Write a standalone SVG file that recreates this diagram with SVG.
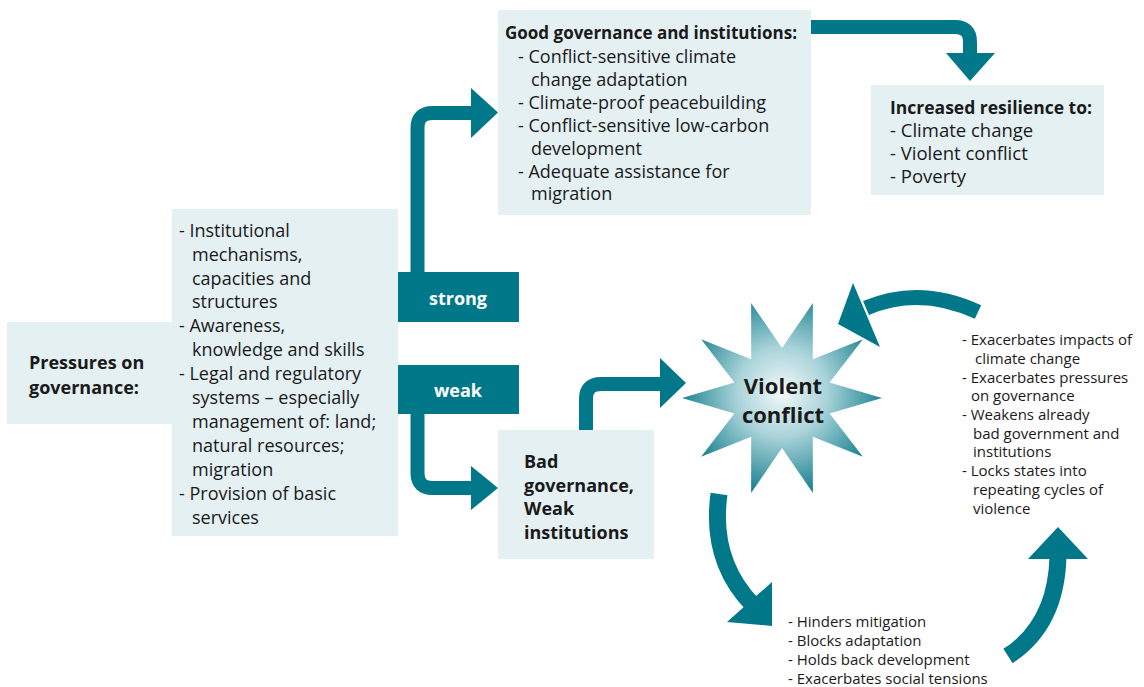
<svg xmlns="http://www.w3.org/2000/svg" width="1144" height="687" viewBox="0 0 1144 687">
<style>
.box{fill:#e4f0f2}
.dark{fill:#007889}
.t{font-family:"Open Sans","Liberation Sans",sans-serif;font-size:18px;fill:#1a1a1a}
.b{font-weight:bold}
.s{font-family:"Open Sans","Liberation Sans",sans-serif;font-size:15px;fill:#1a1a1a}
.w{font-family:"Open Sans","Liberation Sans",sans-serif;font-size:18px;font-weight:bold;fill:#ffffff;text-anchor:middle}
.sh{fill:none;stroke:#007889;stroke-width:14}
.ah{fill:#007889}
</style>
<defs>
<radialGradient id="sg" cx="782" cy="392" r="100" gradientUnits="userSpaceOnUse">
<stop offset="0" stop-color="#f2f9fa"/>
<stop offset="0.45" stop-color="#a9d3d9"/>
<stop offset="1" stop-color="#1f8593"/>
</radialGradient>
</defs>
<rect width="1144" height="687" fill="#ffffff"/>

<g id="connectors">
<path class="sh" d="M417.5,272 V128 Q417.5,113 432.5,113 H473"/>
<polygon class="ah" points="471,88 498,112.5 471,138"/>
<path class="sh" d="M417.5,414 V473 Q417.5,488 432.5,488 H473"/>
<polygon class="ah" points="471,466 498,488 471,510"/>
<path class="sh" d="M586,430 V399 Q586,384 601,384 H662"/>
<polygon class="ah" points="660,358 686,383 660,408"/>
<path class="sh" d="M811,27 H955 Q970,27 970,42 V55"/>
<polygon class="ah" points="946,53 995,53 970,81"/>
<path class="sh" style="stroke-width:15" d="M978,312 Q920,285 866,308"/>
<polygon class="ah" points="838,324 853,283 880,347"/>
<path class="sh" style="stroke-width:17" d="M719,494 Q710,560 752,604"/>
<polygon class="ah" points="772,582 772,626 727,622"/>
<path class="sh" style="stroke-width:17" d="M1008,656 Q1056,625 1058,557"/>
<polygon class="ah" points="1058,527 1088,559 1028,559"/>
</g>

<g id="pressures">
<rect class="box" x="7" y="322" width="170" height="102"/>
<text class="t b" x="29" y="369">Pressures on</text>
<text class="t b" x="29" y="394">governance:</text>
</g>

<g id="pressure-list">
<rect class="box" x="172" y="209" width="226" height="327"/>
<text class="t">
<tspan x="179" y="237">- Institutional</tspan>
<tspan x="192" y="261">mechanisms,</tspan>
<tspan x="192" y="285">capacities and</tspan>
<tspan x="192" y="308">structures</tspan>
<tspan x="179" y="332">- Awareness,</tspan>
<tspan x="192" y="356">knowledge and skills</tspan>
<tspan x="179" y="380">- Legal and regulatory</tspan>
<tspan x="192" y="404">systems – especially</tspan>
<tspan x="192" y="428">management of: land;</tspan>
<tspan x="192" y="452">natural resources;</tspan>
<tspan x="192" y="476">migration</tspan>
<tspan x="179" y="500">- Provision of basic</tspan>
<tspan x="192" y="524">services</tspan>
</text>
</g>

<g id="strong">
<rect class="dark" x="398" y="272" width="121" height="50"/>
<text class="w" x="458" y="305">strong</text>
</g>

<g id="weak">
<rect class="dark" x="398" y="365" width="121" height="49"/>
<text class="w" x="458" y="397">weak</text>
</g>

<g id="good-governance">
<rect class="box" x="498" y="10" width="313" height="205"/>
<text class="t b" x="505" y="39" style="font-size:17px">Good governance and institutions:</text>
<text class="t">
<tspan x="518" y="63">- Conflict-sensitive climate</tspan>
<tspan x="531" y="86">change adaptation</tspan>
<tspan x="518" y="109">- Climate-proof peacebuilding</tspan>
<tspan x="518" y="132">- Conflict-sensitive low-carbon</tspan>
<tspan x="531" y="155">development</tspan>
<tspan x="518" y="178">- Adequate assistance for</tspan>
<tspan x="531" y="200">migration</tspan>
</text>
</g>

<g id="resilience">
<rect class="box" x="871" y="85" width="233" height="110"/>
<text class="t b" x="890" y="114" style="font-size:17.5px">Increased resilience to:</text>
<text class="t" style="font-size:18.5px">
<tspan x="890" y="137">- Climate change</tspan>
<tspan x="890" y="160">- Violent conflict</tspan>
<tspan x="890" y="183">- Poverty</tspan>
</text>
</g>

<g id="bad-governance">
<rect class="box" x="498" y="430" width="156" height="129"/>
<text class="t b">
<tspan x="524" y="468">Bad</tspan>
<tspan x="524" y="492">governance,</tspan>
<tspan x="524" y="515">Weak</tspan>
<tspan x="524" y="539">institutions</tspan>
</text>
</g>

<g id="violent-conflict">
<polygon fill="url(#sg)" points="882,398 829.6,413.5 862.9,456.8 812.8,436.8 812.9,493.1 782,448 751.1,493.1 751.2,436.8 701.1,456.8 734.4,413.5 682,398 734.4,382.5 701.1,339.2 751.2,359.2 751.1,302.9 782,348 812.9,302.9 812.8,359.2 862.9,339.2 829.6,382.5"/>
<text class="t b" x="783" y="394" style="font-size:22px" text-anchor="middle">Violent</text>
<text class="t b" x="783" y="423" style="font-size:22px" text-anchor="middle">conflict</text>
</g>

<g id="effects-right">
<text class="s">
<tspan x="962" y="345">- Exacerbates impacts of</tspan>
<tspan x="975" y="364">climate change</tspan>
<tspan x="962" y="383">- Exacerbates pressures</tspan>
<tspan x="971" y="401">on governance</tspan>
<tspan x="962" y="420">- Weakens already</tspan>
<tspan x="973" y="439">bad government and</tspan>
<tspan x="973" y="457">institutions</tspan>
<tspan x="962" y="476">- Locks states into</tspan>
<tspan x="973" y="495">repeating cycles of</tspan>
<tspan x="973" y="514">violence</tspan>
</text>
</g>

<g id="effects-bottom">
<text class="s">
<tspan x="788" y="627">- Hinders mitigation</tspan>
<tspan x="788" y="646">- Blocks adaptation</tspan>
<tspan x="788" y="665">- Holds back development</tspan>
<tspan x="788" y="684">- Exacerbates social tensions</tspan>
</text>
</g>
</svg>
